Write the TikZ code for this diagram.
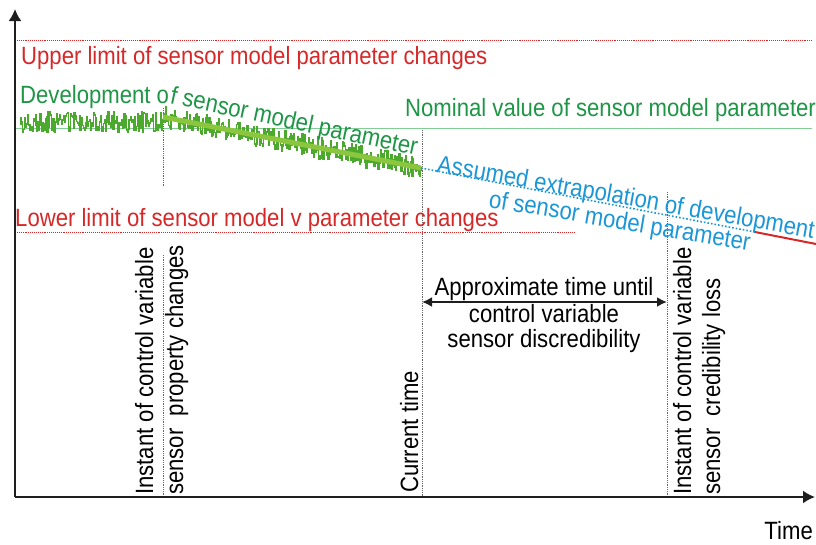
\documentclass[tikz,border=0pt]{standalone}
\usepackage{fontspec}
\setmainfont[FakeStretch=0.885]{Liberation Sans}
\usetikzlibrary{arrows.meta}
\definecolor{limred}{RGB}{214,40,40}
\definecolor{txtgreen}{RGB}{30,150,70}
\definecolor{noisegreen}{RGB}{75,170,45}
\definecolor{trendgreen}{RGB}{140,198,63}
\definecolor{nomgreen}{RGB}{130,205,150}
\definecolor{extblue}{RGB}{27,150,214}
\definecolor{axisgray}{RGB}{30,30,30}
\begin{document}
\begin{tikzpicture}[x=1pt,y=-1pt,
  lbl/.style={inner sep=0pt, font=\fontsize{25}{30}\selectfont},
  axis/.style={line width=2pt, draw=axisgray, -{Latex[length=12pt,width=13pt]}},
  limit/.style={draw=limred, densely dotted, line width=0.9pt},
  marker/.style={draw=gray!80!black, densely dotted, line width=0.8pt},
  noise/.style={draw=noisegreen, line width=1.4pt},
  dblarrow/.style={line width=2pt, draw=axisgray, {Latex[length=10pt,width=10pt]}-{Latex[length=10pt,width=10pt]}}
]
\useasboundingbox (0,0) rectangle (816,544);

% coordinates
\coordinate (o) at (15,497);
\coordinate (ytop) at (15,9);
\coordinate (xend) at (815,497);
\coordinate (upL) at (15,40);
\coordinate (upR) at (812,40);
\coordinate (loL) at (15,232);
\coordinate (loR) at (575,232);
\coordinate (nomL) at (15,128);
\coordinate (nomR) at (812,128);
\coordinate (t1) at (163,117);
\coordinate (t2) at (421,168);
\coordinate (t3) at (755,232);
\coordinate (t4) at (816,244);

% limit lines
\draw[limit] (upL) -- (upR);
\draw[limit] (loL) -- (loR);
\draw[draw=nomgreen, line width=0.8pt] (nomL) -- (nomR);

% vertical markers
\coordinate (m1a) at (163,108); \coordinate (m1b) at (163,187);
\coordinate (m1c) at (163,255); \coordinate (m1d) at (163,497);
\coordinate (m2a) at (422,130); \coordinate (m2b) at (422,497);
\coordinate (m3a) at (667,192); \coordinate (m3b) at (667,497);
\draw[marker] (m1a) -- (m1b);
\draw[marker] (m1c) -- (m1d);
\draw[marker] (m2a) -- (m2b);
\draw[marker] (m3a) -- (m3b);

% noisy signal
\pgfmathsetseed{7}
\draw[noise] plot[const plot, domain=20:163, samples=170, variable=\t] (\t,{122+10*rand});
\draw[noise] plot[const plot, domain=163:421, samples=320, variable=\t] (\t,{117+0.198*(\t-163)+11*rand});
% trend
\draw[draw=trendgreen, line width=5pt] (t1) -- (t2);
% extrapolation
\draw[draw=extblue, dotted, line width=1.6pt] (t2) -- (t3);
\draw[draw=limred, line width=2pt] (t3) -- (t4);

% axes
\draw[axis] (o) -- (ytop);
\draw[axis] (o) -- (xend);

% texts
\node[lbl, text=limred, anchor=base west] (up) at (21,64) {Upper limit of sensor model parameter changes};
\node[lbl, text=limred, anchor=base west] (lo) at (15,226) {Lower limit of sensor model v parameter changes};
\node[lbl, text=txtgreen, anchor=base west] (nom) at (405,116) {Nominal value of sensor model parameter};
\node[lbl, text=txtgreen, anchor=base west] (dev1) at (20,103) {Development o};
\node[lbl, text=txtgreen, anchor=base west, rotate=-12] (dev2) at (dev1.base east) {f sensor model parameter};
\node[lbl, text=extblue, anchor=base west, rotate=-10] (ext1) at (436,172) {Assumed extrapolation of development};
\node[lbl, text=extblue, anchor=base west, rotate=-9.5] (ext2) at (488,207) {of sensor model parameter};

\node[lbl, anchor=base west, rotate=90] (ins1a) at (153,495) {Instant of control variable};
\node[lbl, anchor=base west, rotate=90] (ins1b) at (183,495) {sensor\ \ property changes};
\node[lbl, anchor=base west, rotate=90] (cur) at (418,493) {Current time};
\node[lbl, anchor=base west, rotate=90] (ins2a) at (691,495) {Instant of control variable};
\node[lbl, anchor=base west, rotate=90] (ins2b) at (720,495) {sensor\ \ credibility loss};

\node[lbl, anchor=base] (ap1) at (544,295) {Approximate time until};
\node[lbl, anchor=base] (ap2) at (544,322) {control variable};
\node[lbl, anchor=base] (ap3) at (544,347) {sensor discredibility};
\coordinate (da1) at (422,302);
\coordinate (da2) at (667,302);
\draw[dblarrow] (da1) -- (da2);

\node[lbl, anchor=base east] (time) at (813,539) {Time};
\end{tikzpicture}
\end{document}
